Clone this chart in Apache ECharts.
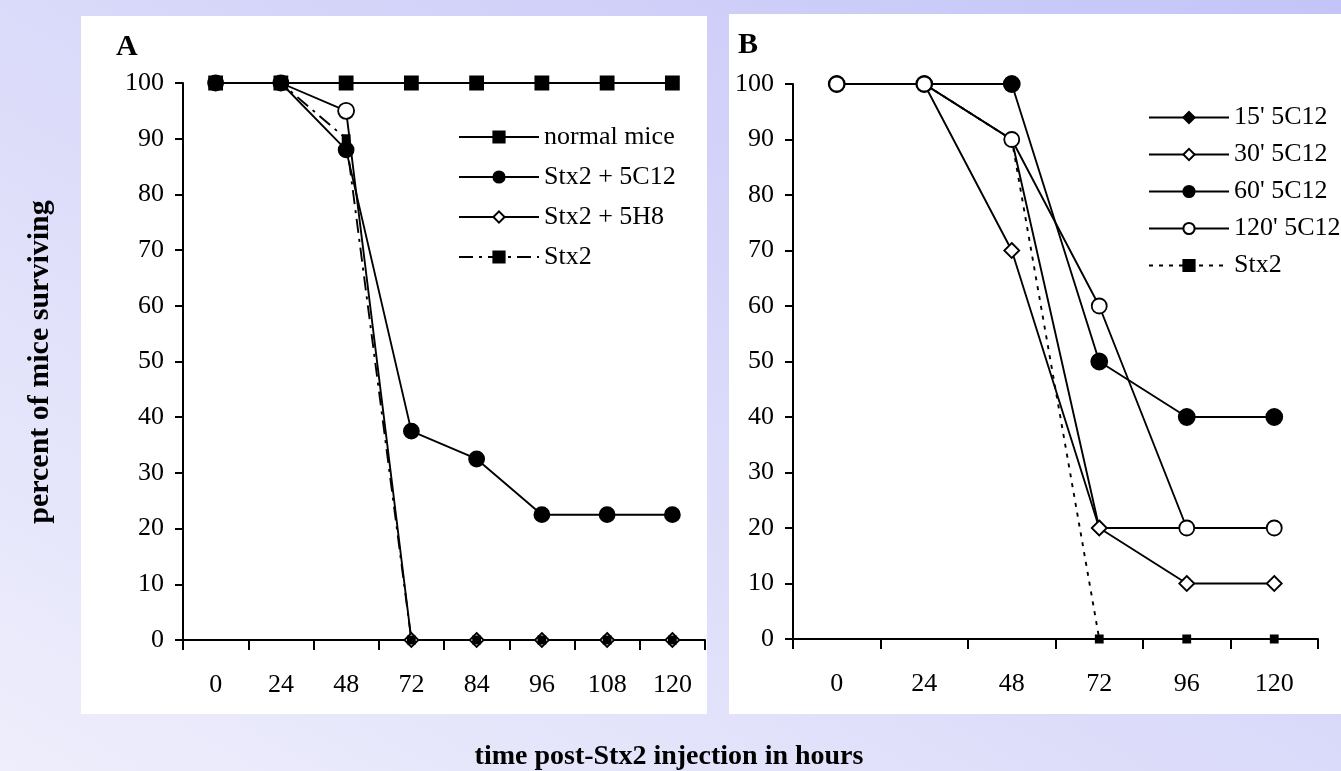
<!DOCTYPE html>
<html>
<head>
<meta charset="utf-8">
<script src="https://cdn.jsdelivr.net/npm/echarts@6/dist/echarts.min.js"></script>
<style>
html,body{margin:0;padding:0;}
#bg{position:absolute;left:0;top:0;width:1341px;height:771px;background:linear-gradient(to top right,#eeeefc 0%,#dcdcfa 45%,#c4c4f8 100%);}
#chart{position:absolute;left:0;top:0;width:1341px;height:771px;}
</style>
</head>
<body>
<div id="bg"></div>
<div id="chart"></div>
<script>
// Panel A
const hoursA = ['0','24','48','72','84','96','108','120'];
const normalMice = [100,100,100,100,100,100,100,100];
const stx2With5C12 = [100,100,88,37.5,32.5,22.5,22.5,22.5];
const stx2With5H8 = [100,100,95,0,0,0,0,0];
const stx2OnlyA = [100,100,90,0,0,0,0,0];
// Panel B
const hoursB = ['0','24','48','72','96','120'];
const min15 = [100,100,90,20,20,20];
const min30 = [100,100,70,20,10,10];
const min60 = [100,100,100,50,40,40];
const min120 = [100,100,90,60,20,20];
const stx2OnlyB = [100,100,90,0,0,0];
const yTicks = [0,10,20,30,40,50,60,70,80,90,100];

const FONT = '"Liberation Serif", "Times New Roman", serif';
const chart = echarts.init(document.getElementById('chart'), null, {renderer:'canvas'});

function yAxis(gi){
  return {
    type:'value', gridIndex:gi, min:0, max:100, interval:10,
    axisLine:{show:true, lineStyle:{color:'#000', width:2}},
    axisTick:{show:true, length:8, lineStyle:{color:'#000', width:2}},
    splitLine:{show:false},
    axisLabel:{color:'#000', fontSize:26, fontFamily:FONT, margin:19,
      formatter: v => yTicks.includes(v) ? String(v) : ''}
  };
}
function xAxis(gi, data){
  return {
    type:'category', gridIndex:gi, data:data, boundaryGap:true,
    axisLine:{show:true, onZero:false, lineStyle:{color:'#000', width:2}},
    axisTick:{show:true, length:10, lineStyle:{color:'#000', width:2}},
    axisLabel:{color:'#000', fontSize:26, fontFamily:FONT, margin:32}
  };
}
function line(name, data, gi, symbol, size, filled, dash){
  return {
    name:name, type:'line', xAxisIndex:gi, yAxisIndex:gi, data:data,
    symbol:symbol, symbolSize:size, showSymbol:true,
    lineStyle:{color:'#000', width:1.9, type: dash || 'solid'},
    itemStyle:{color: filled ? '#000' : '#fff', borderColor:'#000', borderWidth:1.8},
    emphasis:{disabled:true}, animation:false
  };
}

const h5H8 = stx2With5H8.map((v,i) => i === 2 ? {value:v, symbol:'circle', symbolSize:16} : v);

const legendText = {color:'#000', fontSize:26, fontFamily:FONT, lineHeight:30};

chart.setOption({
  animation:false,
  backgroundColor:'transparent',
  graphic:[
    {type:'rect', shape:{x:81, y:16, width:626, height:698}, style:{fill:'#fff'}, z:-10},
    {type:'rect', shape:{x:729, y:14, width:612, height:700}, style:{fill:'#fff'}, z:-10},
    {type:'text', left:116, top:32, style:{text:'A', font:'bold 30px ' + FONT, fill:'#000'}},
    {type:'text', left:738, top:30, style:{text:'B', font:'bold 30px ' + FONT, fill:'#000'}},
    {type:'text', x:40, y:362, rotation:Math.PI/2, style:{text:'percent of mice surviving', font:'bold 30px ' + FONT, fill:'#000', align:'center', verticalAlign:'middle'}},
    {type:'text', x:669, y:757, style:{text:'time post-Stx2 injection in hours', font:'bold 28px ' + FONT, fill:'#000', align:'center', verticalAlign:'middle'}}
  ],
  grid:[
    {left:183, top:83, width:522, height:557},
    {left:793, top:84, width:525, height:555}
  ],
  xAxis:[xAxis(0, hoursA), xAxis(1, hoursB)],
  yAxis:[yAxis(0), yAxis(1)],
  legend:[
    {orient:'vertical', left:453, top:117, itemWidth:80, itemHeight:14, itemGap:10,
     textStyle:legendText, data:['normal mice','Stx2 + 5C12','Stx2 + 5H8','Stx2 '], selectedMode:false},
    {orient:'vertical', left:1143, top:98, itemWidth:80, itemHeight:14, itemGap:8,
     textStyle:Object.assign({}, legendText, {lineHeight:29}), data:["15' 5C12","30' 5C12","60' 5C12","120' 5C12",'Stx2'], selectedMode:false}
  ],
  series:[
    line('normal mice', normalMice, 0, 'rect', 13, true),
    line('Stx2 + 5H8', h5H8, 0, 'diamond', 14, false),
    line('Stx2 ', stx2OnlyA, 0, 'rect', 7, true, [14,6,3,6]),
    line('Stx2 + 5C12', stx2With5C12, 0, 'circle', 15, true),
    line("15' 5C12", min15, 1, 'diamond', 14, true),
    line('Stx2', stx2OnlyB, 1, 'rect', 7, true, [4,6]),
    line("30' 5C12", min30, 1, 'diamond', 15, false),
    line("60' 5C12", min60, 1, 'circle', 16, true),
    line("120' 5C12", min120, 1, 'circle', 15, false)
  ]
});
</script>
</body>
</html>
